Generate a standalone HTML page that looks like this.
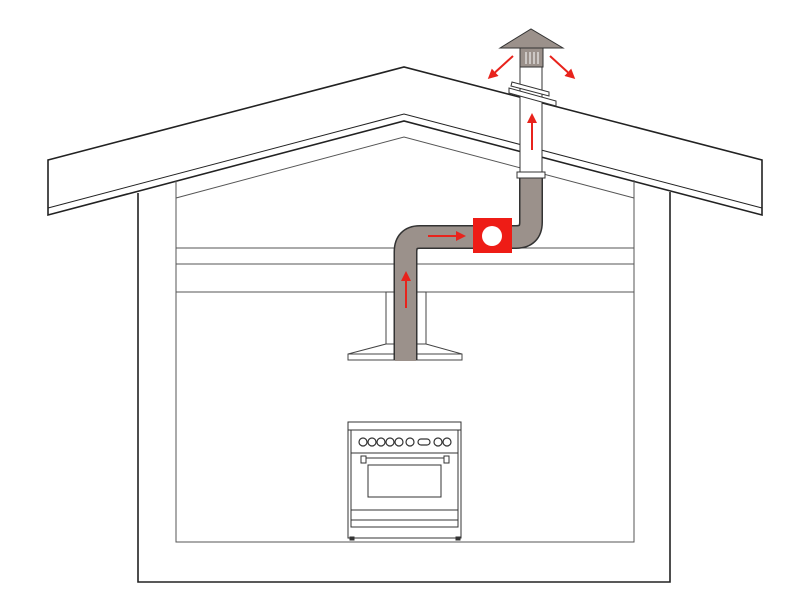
<!DOCTYPE html>
<html><head><style>html,body{margin:0;padding:0;background:#fff}svg{display:block}</style></head>
<body>
<svg width="801" height="600" viewBox="0 0 801 600" xmlns="http://www.w3.org/2000/svg">
<defs><marker id="a" markerWidth="10" markerHeight="10" refX="7" refY="5" orient="auto" markerUnits="userSpaceOnUse"><path d="M0,0 L10,5 L0,10 z" fill="#e8231c"/></marker></defs>
<g fill="none" stroke="#222" stroke-width="1.6">
<path d="M48,160 L404,67 L762,160 L762,215 L404,121 L48,215 Z" fill="#fff"/>
<path d="M48,208 L404,114 L762,208" stroke-width="1"/>
<path d="M138,193 L138,582 L670,582 L670,192" />
</g>
<g fill="none" stroke="#555" stroke-width="1">
<path d="M176,181 L176,542 L634,542 L634,180"/>
<path d="M176,198 L404,137 L634,198"/>
<path d="M176,248 H634 M176,264 H634 M176,292 H634"/>
</g>
<g stroke="#444" stroke-width="1" fill="#fff">
<rect x="386" y="292" width="40" height="52"/>
<path d="M386,344 L426,344 L462,354 L462,360 L348,360 L348,354 Z"/>
<path d="M348,354 L462,354" fill="none"/>
</g>
<path d="M405.5,360 L405.5,252 Q405.5,237 420,237 L516,237 Q531,237 531,222 L531,176" fill="none" stroke="#333" stroke-width="24"/>
<path d="M405.5,361 L405.5,252 Q405.5,237 420,237 L516,237 Q531,237 531,222 L531,176" fill="none" stroke="#9b918b" stroke-width="21"/>
<rect x="473" y="218" width="39" height="35" fill="#ee1c16"/>
<circle cx="492" cy="236" r="10" fill="#fff"/>
<g stroke="#333" stroke-width="1" fill="#fff">
<rect x="520" y="66" width="22" height="110"/>
<rect x="517" y="172" width="28" height="6"/>
<path d="M511,86 L549,96 L549,92 L512,82 Z"/>
<path d="M509,93 L556,106 L556,101 L509,88 Z"/>
<rect x="520" y="48" width="23" height="19" fill="#9b918b"/>
<path d="M526,52 V64 M530,52 V64 M534,52 V64 M538,52 V64" stroke="#fff"/>
<path d="M500,48 L531,29 L563,48 Z" fill="#9b918b"/>
</g>
<g stroke="#e8231c" stroke-width="2" marker-end="url(#a)">
<line x1="406" y1="308" x2="406" y2="274"/>
<line x1="428" y1="236" x2="463" y2="236"/>
<line x1="532" y1="150" x2="532" y2="116"/>
<line x1="513" y1="56" x2="490" y2="77"/>
<line x1="550" y1="56" x2="573" y2="77"/>
</g>
<g stroke="#333" stroke-width="1" fill="#fff">
<rect x="348" y="422" width="113" height="116"/>
<line x1="348" y1="430" x2="461" y2="430"/>
<rect x="351" y="430" width="107" height="97"/>
<line x1="351" y1="453" x2="458" y2="453"/>
<rect x="368" y="465" width="73" height="32"/>
<rect x="361" y="456" width="5" height="7"/><rect x="444" y="456" width="5" height="7"/>
<line x1="366" y1="458" x2="444" y2="458"/>
<line x1="351" y1="510" x2="458" y2="510"/>
<line x1="351" y1="520" x2="458" y2="520"/>
<rect x="350" y="537" width="4" height="3" fill="#333"/><rect x="456" y="537" width="4" height="3" fill="#333"/>
<g stroke-width="1.2">
<circle cx="363" cy="442" r="4"/><circle cx="372" cy="442" r="4"/><circle cx="381" cy="442" r="4"/><circle cx="390" cy="442" r="4"/><circle cx="399" cy="442" r="4"/><circle cx="410" cy="442" r="4"/>
<rect x="418" y="439" width="12" height="6" rx="3"/>
<circle cx="438" cy="442" r="4"/><circle cx="447" cy="442" r="4"/>
</g>
</g>
</svg>
</body></html>
